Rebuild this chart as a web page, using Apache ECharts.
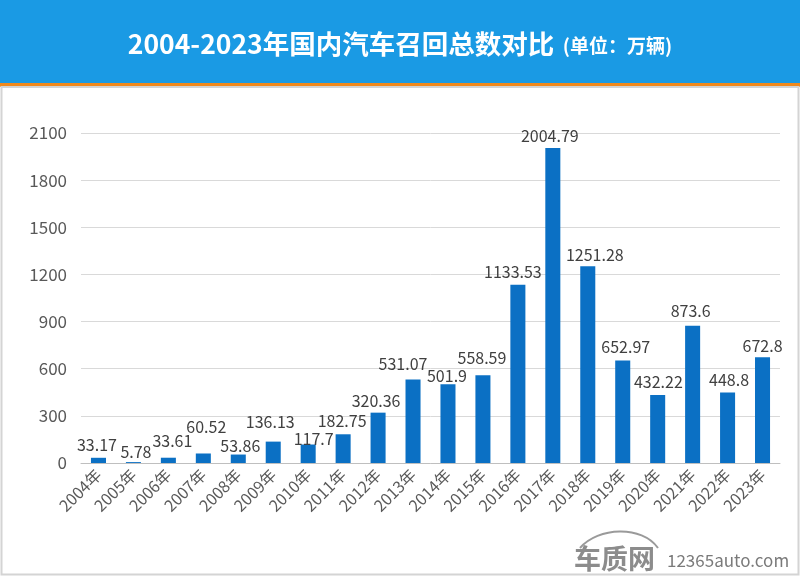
<!DOCTYPE html>
<html><head><meta charset="utf-8">
<script src="https://cdn.jsdelivr.net/npm/echarts@6/dist/echarts.min.js"></script>
<style>html,body{margin:0;padding:0;background:#fff}#c{width:800px;height:576px}</style>
</head><body><div id="c"></div>
<script>
const years = ['2004年','2005年','2006年','2007年','2008年','2009年','2010年','2011年','2012年','2013年','2014年','2015年','2016年','2017年','2018年','2019年','2020年','2021年','2022年','2023年'];
const recalls = [33.17,5.78,33.61,60.52,53.86,136.13,117.7,182.75,320.36,531.07,501.9,558.59,1133.53,2004.79,1251.28,652.97,432.22,873.6,448.8,672.8];
const yTicks = {min:0,max:2100,interval:300};
const titleMain = '2004-2023年国内汽车召回总数对比';
const titleUnit = '(单位：万辆)';
// manual nudges of the data labels (as placed in the original)
const labelNudges = [[-1.5,-1],[2.5,2],[4,-5],[3,-15],[2,3],[-3,-8],[5.5,6],[-1,-1],[-2,0],[-10,-4],[-1,4],[-1,-5],[-5,-1],[-3,0],[7,1],[3,-1],[0.7,-1],[-2,-3],[1.5,-1],[0,1]];

const chart = echarts.init(document.getElementById('c'));
const font = '"Noto Sans CJK SC","Noto Sans",sans-serif';
const barData = recalls.map((v,i)=>({value:v,label:{offset:labelNudges[i]}}));
chart.setOption({
  backgroundColor:'#ffffff',
  animation:false,
  graphic:[
    {type:'rect',shape:{x:0,y:0,width:800,height:83},style:{fill:'#1a9ae4'},z:0},
    {type:'rect',shape:{x:0,y:83,width:800,height:4},style:{fill:'#f0891c'},z:0},
    {type:'rect',shape:{x:1.5,y:87,width:797,height:487.5},style:{fill:'none',stroke:'#d4d4d4',lineWidth:2},z:0},
    {type:'bezierCurve',shape:{x1:580,y1:548,x2:658,y2:548,cpx1:598,cpy1:527,cpx2:642,cpy2:525},style:{stroke:'#9a9a9a',lineWidth:2,fill:'none'},z:5},
    {type:'text',x:574,y:545,style:{text:'车质网',fill:'#8c8c8c',font:'bold 27px '+font},z:5},
    {type:'text',x:667,y:552,style:{text:'12365auto.com',fill:'#7a7a7a',font:'17px '+font},z:5}
  ],
  title:{
    text:'{a|'+titleMain+'}{b|  '+titleUnit+'}',
    left:'center',top:26,
    textStyle:{rich:{
      a:{fontSize:26.5,fontWeight:'bold',color:'#ffffff',fontFamily:font},
      b:{fontSize:19,color:'#ffffff',fontFamily:font,padding:[4,0,0,0]}
    }}
  },
  grid:{left:81,right:20,top:133,bottom:113},
  xAxis:{
    type:'category',data:years,
    axisLine:{lineStyle:{color:'#bfbfbf',width:1}},
    axisTick:{show:false},
    axisLabel:{rotate:45,color:'#595959',fontSize:16,fontFamily:font,margin:9,interval:0}
  },
  yAxis:{
    type:'value',min:yTicks.min,max:yTicks.max,interval:yTicks.interval,
    axisLine:{show:false},axisTick:{show:false},
    splitLine:{lineStyle:{color:'#d9d9d9'}},
    axisLabel:{color:'#595959',fontSize:17,fontFamily:font,margin:14,formatter:v=>String(v)}
  },
  series:[{
    type:'bar',data:barData,barWidth:'43%',
    itemStyle:{color:'#0b70c4'},
    label:{show:true,position:'top',color:'#404040',fontSize:16,fontFamily:font,distance:4}
  }]
});
</script></body></html>
